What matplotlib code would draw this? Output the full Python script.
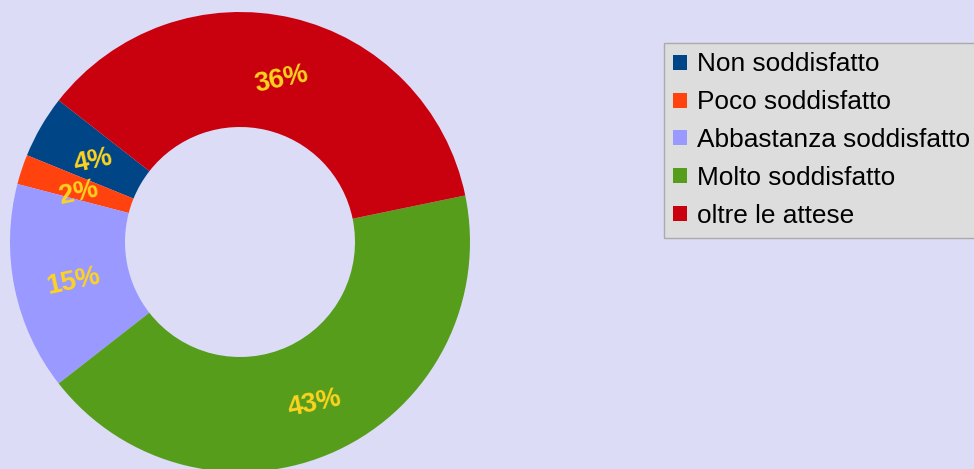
import matplotlib.pyplot as plt

categories = ['Non soddisfatto', 'Poco soddisfatto', 'Abbastanza soddisfatto',
              'Molto soddisfatto', 'oltre le attese']
values = [4.4, 2.1, 14.6, 42.7, 36.2]
colors = ['#004586', '#ff420e', '#9999ff', '#579d1c', '#c9000e']

bg = '#dcdcf7'
plt.rcParams['font.family'] = ['Liberation Sans', 'DejaVu Sans']

fig = plt.figure(figsize=(9.74, 4.69), dpi=100, facecolor=bg)
W, H = 974, 469
cx, cy, r = 240, 242, 230
ax = fig.add_axes([(cx - r) / W, (H - cy - r) / H, 2 * r / W, 2 * r / H])
ax.set_facecolor(bg)

wedges, texts, autotexts = ax.pie(
    values, colors=colors, startangle=142, counterclock=True,
    radius=1, wedgeprops=dict(width=0.5, linewidth=0),
    autopct=lambda p: '%d%%' % round(p), pctdistance=0.75,
    textprops=dict(color='#ffd320', fontsize=19.5, fontweight='bold'))
for t in autotexts:
    t.set_rotation(12)
    x, y = t.get_position()
    t.set_position((x + 0.01, y - 0.022))
ax.set_xlim(-1, 1)
ax.set_ylim(-1, 1)
ax.axis('off')

leg = fig.legend(wedges, categories, loc='upper left',
                 bbox_to_anchor=(664 / W, 1 - 43 / H), frameon=True,
                 fancybox=False, fontsize=18.9, handlelength=0.5,
                 handleheight=0.5, handletextpad=0.4, labelspacing=0.53,
                 borderpad=0.36, borderaxespad=0)
leg.get_frame().set_facecolor('#dddddd')
leg.get_frame().set_edgecolor('#aaaaaa')
leg.get_frame().set_alpha(1)

fig.savefig('out.png', dpi=100, facecolor=bg)
